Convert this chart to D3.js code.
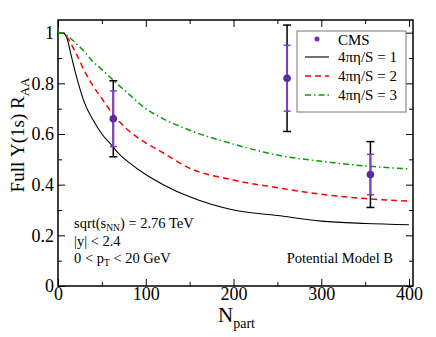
<!DOCTYPE html>
<html>
<head>
<meta charset="utf-8">
<script src="https://cdn.jsdelivr.net/npm/d3@7"></script>
<style>
  body { margin: 0; background: #fff; }
  text { font-family: "Liberation Serif", "DejaVu Serif", serif; }
</style>
</head>
<body>
<svg class="chart"></svg>
<script>
// model curves
const npart = [0, 5, 10, 15, 20, 30, 40, 50, 60, 70, 80, 100, 120, 150, 200, 250, 300, 350, 400]
const raaEta1 = [1.0, 1.0, 0.98, 0.91, 0.84, 0.725, 0.655, 0.60, 0.56, 0.52, 0.49, 0.44, 0.40, 0.352, 0.30, 0.278, 0.256, 0.247, 0.242]
const raaEta2 = [1.0, 1.0, 0.985, 0.955, 0.923, 0.85, 0.79, 0.74, 0.69, 0.648, 0.615, 0.565, 0.525, 0.465, 0.418, 0.388, 0.362, 0.345, 0.335]
const raaEta3 = [1.0, 1.0, 0.99, 0.975, 0.96, 0.925, 0.885, 0.855, 0.822, 0.79, 0.76, 0.70, 0.66, 0.615, 0.56, 0.517, 0.492, 0.474, 0.462]

// CMS points
const cmsNpart = [63, 261, 356]
const cmsRaa = [0.66, 0.82, 0.44]
const cmsStat = [0.11, 0.13, 0.08]
const cmsSyst = [0.15, 0.21, 0.13]

const xTicks = [0, 100, 200, 300, 400]
const yTicks = [0, 0.2, 0.4, 0.6, 0.8, 1]

const W = 436, H = 337
const plotLeft = 58, plotRight = 413, plotTop = 20, plotBottom = 286

const svg = d3.select('svg.chart')
    .attr('width', W)
    .attr('height', H)

const x = d3.scaleLinear().domain([0, 404.5]).range([plotLeft, plotRight])
const y = d3.scaleLinear().domain([0, 1.05]).range([plotBottom, plotTop])

// axes with inward ticks on all four sides
function styleAxis(g) {
    g.select('.domain').remove()
    g.selectAll('line').attr('stroke', '#000').attr('stroke-width', 1)
    g.selectAll('text').style('font-size', '18px').attr('fill', '#000')
        .style('font-family', '"Liberation Serif", serif')
}

svg.append('g').attr('transform', `translate(0,${plotBottom})`)
    .call(d3.axisBottom(x).tickValues(xTicks).tickSize(-7).tickPadding(1).tickFormat(d3.format('d')))
    .call(styleAxis)
svg.append('g').attr('transform', `translate(0,${plotBottom})`)
    .call(d3.axisBottom(x).tickValues(d3.range(50, 401, 100)).tickSize(-4).tickFormat(''))
    .call(styleAxis)
svg.append('g').attr('transform', `translate(0,${plotTop})`)
    .call(d3.axisTop(x).tickValues(xTicks).tickSize(-7).tickFormat(''))
    .call(styleAxis)
svg.append('g').attr('transform', `translate(0,${plotTop})`)
    .call(d3.axisTop(x).tickValues(d3.range(50, 401, 100)).tickSize(-4).tickFormat(''))
    .call(styleAxis)

svg.append('g').attr('transform', `translate(${plotLeft},0)`)
    .call(d3.axisLeft(y).tickValues(yTicks).tickSize(-7).tickPadding(4).tickFormat(d => d === 0 || d === 1 ? d3.format('d')(d) : d3.format('.1f')(d)))
    .call(styleAxis)
svg.append('g').attr('transform', `translate(${plotLeft},0)`)
    .call(d3.axisLeft(y).tickValues(d3.range(0.1, 1.01, 0.2)).tickSize(-4).tickFormat(''))
    .call(styleAxis)
svg.append('g').attr('transform', `translate(${plotRight},0)`)
    .call(d3.axisRight(y).tickValues(yTicks).tickSize(-7).tickFormat(''))
    .call(styleAxis)
svg.append('g').attr('transform', `translate(${plotRight},0)`)
    .call(d3.axisRight(y).tickValues(d3.range(0.1, 1.01, 0.2)).tickSize(-4).tickFormat(''))
    .call(styleAxis)

svg.append('rect')
    .attr('x', plotLeft).attr('y', plotTop)
    .attr('width', plotRight - plotLeft).attr('height', plotBottom - plotTop)
    .attr('fill', 'none').attr('stroke', '#000').attr('stroke-width', 1.5)

// curves
const curves = [
    { values: raaEta1, color: '#000', dash: null, width: 1.1, label: '4πη/S = 1' },
    { values: raaEta2, color: '#ff0000', dash: '6,4', width: 1.5, label: '4πη/S = 2' },
    { values: raaEta3, color: '#00a000', dash: '6,3,1.5,3', width: 1.5, label: '4πη/S = 3' }
]

const line = d3.line()
    .x(d => x(d[0]))
    .y(d => y(d[1]))
    .curve(d3.curveMonotoneX)

curves.forEach(c => {
    svg.append('path')
        .datum(npart.map((n, i) => [n, c.values[i]]))
        .attr('d', line)
        .attr('fill', 'none')
        .attr('stroke', c.color)
        .attr('stroke-width', c.width)
        .attr('stroke-dasharray', c.dash)
})

// CMS points with syst (black) and stat (purple) bars
const cms = cmsNpart.map((n, i) => ({ n: n, r: cmsRaa[i], stat: cmsStat[i], syst: cmsSyst[i] }))
const purple = '#7e3fc8'

const pts = svg.append('g').selectAll('g.pt')
    .data(cms)
    .enter()
    .append('g')
    .classed('pt', true)

pts.append('line')
    .attr('x1', d => x(d.n)).attr('x2', d => x(d.n))
    .attr('y1', d => y(d.r + d.syst)).attr('y2', d => y(d.r - d.syst))
    .attr('stroke', '#000').attr('stroke-width', 1.5)
pts.selectAll('line.sc')
    .data(d => [d.r + d.syst, d.r - d.syst].map(v => ({ n: d.n, v: v })))
    .enter().append('line').classed('sc', true)
    .attr('x1', d => x(d.n) - 4).attr('x2', d => x(d.n) + 4)
    .attr('y1', d => y(d.v)).attr('y2', d => y(d.v))
    .attr('stroke', '#000').attr('stroke-width', 1.5)

pts.append('line')
    .attr('x1', d => x(d.n)).attr('x2', d => x(d.n))
    .attr('y1', d => y(d.r + d.stat)).attr('y2', d => y(d.r - d.stat))
    .attr('stroke', purple).attr('stroke-width', 2)
pts.selectAll('line.tc')
    .data(d => [d.r + d.stat, d.r - d.stat].map(v => ({ n: d.n, v: v })))
    .enter().append('line').classed('tc', true)
    .attr('x1', d => x(d.n) - 3.5).attr('x2', d => x(d.n) + 3.5)
    .attr('y1', d => y(d.v)).attr('y2', d => y(d.v))
    .attr('stroke', purple).attr('stroke-width', 1.5)

pts.append('circle')
    .attr('cx', d => x(d.n)).attr('cy', d => y(d.r))
    .attr('r', 3.8)
    .attr('fill', '#5b2aa0')

// legend
const lg = svg.append('g')
lg.append('rect')
    .attr('x', 297).attr('y', 31).attr('width', 109).attr('height', 81)
    .attr('fill', '#fff').attr('stroke', '#777').attr('stroke-width', 1)
lg.append('circle').attr('cx', 317).attr('cy', 39).attr('r', 2.5).attr('fill', '#6a2ab8')
lg.append('text').attr('x', 338).attr('y', 44.5).style('font-size', '15px').text('CMS')
curves.forEach((c, i) => {
    const yy = 57 + i * 19
    lg.append('line')
        .attr('x1', 305).attr('x2', 329).attr('y1', yy).attr('y2', yy)
        .attr('stroke', c.color).attr('stroke-width', c.width)
        .attr('stroke-dasharray', c.dash)
    lg.append('text').attr('x', 338).attr('y', yy + 5).style('font-size', '15px').text(c.label)
})

// annotations
const ann = svg.append('g').style('font-size', '14.5px')
const t1 = ann.append('text').attr('x', 74).attr('y', 228)
t1.append('tspan').text('sqrt(s')
t1.append('tspan').attr('dy', 3).style('font-size', '9.5px').text('NN')
t1.append('tspan').attr('dy', -3).text(') = 2.76 TeV')
ann.append('text').attr('x', 74).attr('y', 246).text('|y| < 2.4')
const t3 = ann.append('text').attr('x', 74).attr('y', 263)
t3.append('tspan').text('0 < p')
t3.append('tspan').attr('dy', 3).style('font-size', '9.5px').text('T')
t3.append('tspan').attr('dy', -3).text(' < 20 GeV')
ann.append('text').attr('x', 393).attr('y', 263).attr('text-anchor', 'end').text('Potential Model B')

// axis titles
const xt = svg.append('text').attr('x', 218).attr('y', 322).style('font-size', '21px')
xt.append('tspan').text('N')
xt.append('tspan').attr('dy', 6).style('font-size', '14px').text('part')

const yt = svg.append('text')
    .attr('transform', 'translate(24,' + 135 + ')rotate(-90)')
    .attr('text-anchor', 'middle')
    .style('font-size', '19px')
yt.append('tspan').text('Full Υ(1s) R')
yt.append('tspan').attr('dy', 5).style('font-size', '13px').text('AA')
</script>
</body>
</html>
